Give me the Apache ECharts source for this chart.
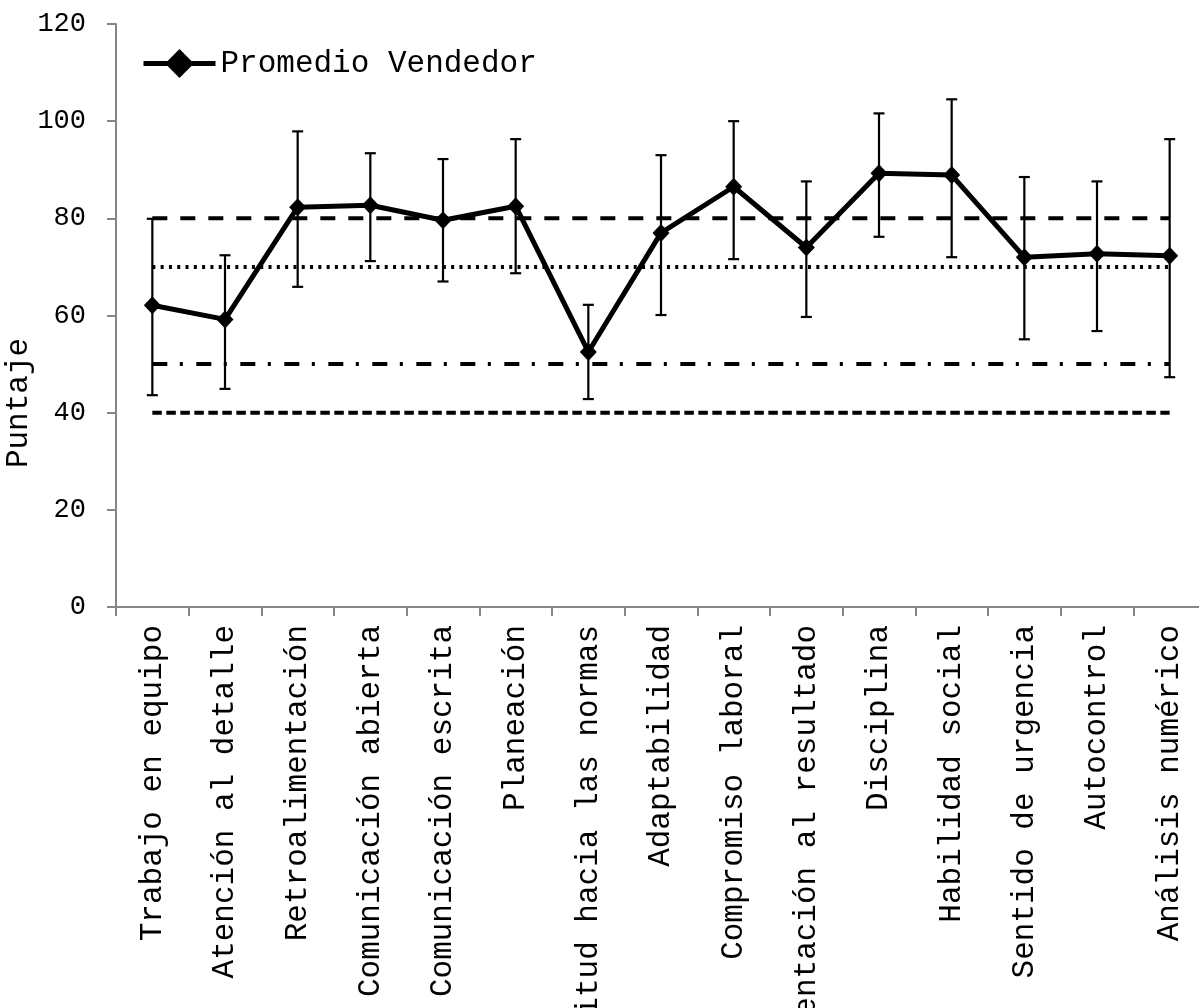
<!DOCTYPE html>
<html>
<head>
<meta charset="utf-8">
<script src="https://cdn.jsdelivr.net/npm/echarts@6/dist/echarts.min.js"></script>
<style>
  html, body { margin: 0; padding: 0; background: #fff; }
  #chart { width: 1199px; height: 1008px; }
</style>
</head>
<body>
<div id="chart"></div>
<script>
// Competencias evaluadas
const categories = [
  'Trabajo en equipo', 'Atención al detalle', 'Retroalimentación',
  'Comunicación abierta', 'Comunicación escrita', 'Planeación',
  'Actitud hacia las normas', 'Adaptabilidad', 'Compromiso laboral',
  'Orientación al resultado', 'Disciplina', 'Habilidad social',
  'Sentido de urgencia', 'Autocontrol', 'Análisis numérico'
];
// Puntaje promedio del vendedor
const promedio = [62.1, 59.2, 82.3, 82.7, 79.6, 82.5, 52.5, 77.0, 86.5, 74.0, 89.3, 88.9, 72.0, 72.7, 72.3];
// Extremos de las barras de error
const limiteSuperior = [79.9, 72.4, 97.9, 93.4, 92.2, 96.3, 62.2, 93.0, 100.0, 87.6, 101.6, 104.5, 88.5, 87.6, 96.3];
const limiteInferior = [43.6, 44.9, 65.9, 71.2, 67.0, 68.7, 42.8, 60.1, 71.6, 59.7, 76.2, 72.0, 55.1, 56.8, 47.3];
// Niveles de referencia horizontales
const nivelAlto = 80;
const nivelMedio = 70;
const nivelBajo = 50;
const nivelMinimo = 40;
// Marcas del eje Y
const yTicks = [0, 20, 40, 60, 80, 100, 120];

const FONT = '"Liberation Mono", "Courier New", monospace';
const flat = v => categories.map(() => v);

const chart = echarts.init(document.getElementById('chart'));

function refLine(value, dash, z) {
  return {
    type: 'line',
    data: flat(value),
    symbol: 'none',
    silent: true,
    z: z,
    lineStyle: { color: '#000', width: 4, type: dash, cap: 'butt' }
  };
}

chart.setOption({
  animation: false,
  backgroundColor: '#fff',
  grid: {
    left: 116, top: 24, width: 1090, height: 583,
    containLabel: false,
    outerBoundsMode: 'none'
  },
  legend: {
    data: ['Promedio Vendedor'],
    left: 141,
    top: 48,
    padding: 0,
    itemWidth: 72,
    itemHeight: 36,
    textStyle: { fontFamily: FONT, fontSize: 31, color: '#000' },
    lineStyle: { width: 5 }
  },
  graphic: [{
    type: 'text',
    x: 19,
    y: 403,
    rotation: Math.PI / 2,
    style: {
      text: 'Puntaje',
      font: '31px ' + FONT,
      fill: '#000',
      textAlign: 'center',
      textVerticalAlign: 'middle'
    }
  }],
  xAxis: {
    type: 'category',
    data: categories,
    boundaryGap: true,
    axisLine: { lineStyle: { color: '#868686', width: 2 } },
    axisTick: { show: true, length: 9, inside: false, lineStyle: { color: '#868686', width: 2 } },
    axisLabel: {
      rotate: 90,
      interval: 0,
      margin: 18,
      fontFamily: FONT,
      fontSize: 31,
      color: '#000'
    },
    splitLine: { show: false }
  },
  yAxis: {
    type: 'value',
    min: yTicks[0],
    max: yTicks[yTicks.length - 1],
    interval: 20,
    axisLine: { show: true, lineStyle: { color: '#868686', width: 2 } },
    axisTick: { show: true, length: 9, lineStyle: { color: '#868686', width: 2 } },
    axisLabel: { margin: 30, fontFamily: FONT, fontSize: 27, color: '#000' },
    splitLine: { show: false }
  },
  series: [
    refLine(nivelAlto, [15, 13], 2),
    refLine(nivelMedio, [3, 5.3], 2),
    refLine(nivelBajo, [15, 12.5, 3, 13.5], 2),
    refLine(nivelMinimo, [9.5, 4.5], 2),
    {
      type: 'custom',
      silent: true,
      z: 3,
      data: categories.map((c, i) => [i, limiteInferior[i], limiteSuperior[i]]),
      renderItem: function (params, api) {
        const i = api.value(0);
        const lo = api.coord([i, api.value(1)]);
        const hi = api.coord([i, api.value(2)]);
        const cap = 5.5;
        const st = { stroke: '#000', lineWidth: 2.2 };
        return {
          type: 'group',
          children: [
            { type: 'line', shape: { x1: lo[0], y1: lo[1], x2: hi[0], y2: hi[1] }, style: st },
            { type: 'line', shape: { x1: hi[0] - cap, y1: hi[1], x2: hi[0] + cap, y2: hi[1] }, style: st },
            { type: 'line', shape: { x1: lo[0] - cap, y1: lo[1], x2: lo[0] + cap, y2: lo[1] }, style: st }
          ]
        };
      }
    },
    {
      name: 'Promedio Vendedor',
      type: 'line',
      data: promedio,
      z: 4,
      symbol: 'diamond',
      symbolSize: [17, 18],
      itemStyle: { color: '#000' },
      lineStyle: { color: '#000', width: 5 }
    }
  ]
});
</script>
</body>
</html>
